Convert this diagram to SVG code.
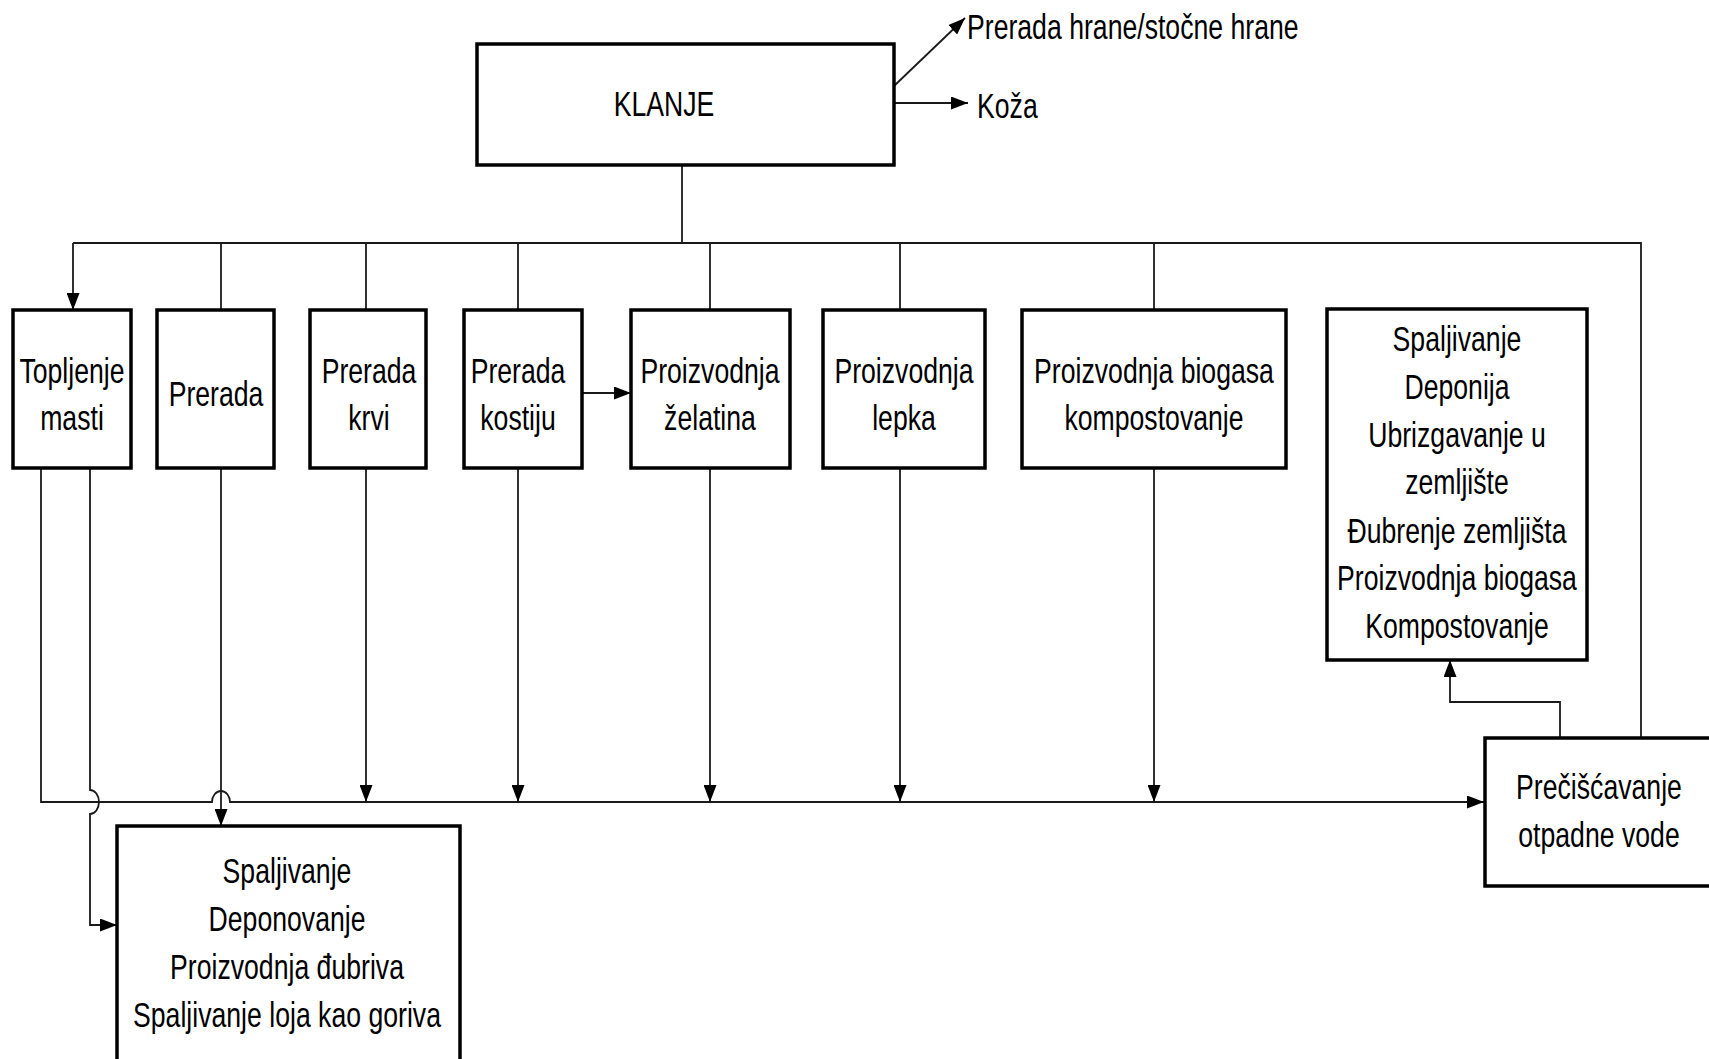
<svg xmlns="http://www.w3.org/2000/svg" width="1709" height="1059" viewBox="0 0 1709 1059">
  <style>
    .box { fill: #ffffff; stroke: #000000; stroke-width: 3.5; }
    .lbl { font-family: "Liberation Sans", Arial, sans-serif; font-size: 36px; fill: #000000; text-anchor: middle; }
    .lft { text-anchor: start; }
    .wire { fill: none; stroke: #1a1a1a; stroke-width: 1.8; }
    .arr { marker-end: url(#head); }
  </style>
  <defs>
    <marker id="head" markerUnits="userSpaceOnUse" markerWidth="18" markerHeight="13" refX="17" refY="6.5" orient="auto">
      <path d="M0,0 L17,6.5 L0,13 Z" fill="#000000"/>
    </marker>
  </defs>
  <rect width="1709" height="1059" fill="#ffffff"/>

  <g id="connectors">
    <!-- outputs of slaughter -->
    <path class="wire arr" d="M894,86 L965,18"/>
    <path class="wire arr" d="M894,103 L968,103"/>
    <!-- distribution bus -->
    <path class="wire" d="M682,165 V243"/>
    <path class="wire" d="M73,243 H1641 V738"/>
    <path class="wire arr" d="M73,243 V310"/>
    <path class="wire" d="M221,243 V309"/>
    <path class="wire" d="M366,243 V309"/>
    <path class="wire" d="M518,243 V309"/>
    <path class="wire" d="M710,243 V309"/>
    <path class="wire" d="M900,243 V309"/>
    <path class="wire" d="M1154,243 V309"/>
    <!-- bone processing to gelatine -->
    <path class="wire arr" d="M582,393 H631"/>
    <!-- collection line to wastewater treatment -->
    <path class="wire arr" d="M41,468 V802 H212 A9,11 0 0 1 230,802 H1484"/>
    <path class="wire arr" d="M366,468 V802"/>
    <path class="wire arr" d="M518,468 V802"/>
    <path class="wire arr" d="M710,468 V802"/>
    <path class="wire arr" d="M900,468 V802"/>
    <path class="wire arr" d="M1154,468 V802"/>
    <!-- lines to final disposal -->
    <path class="wire arr" d="M90,468 V790 A9,12 0 0 1 90,814 V925 H117"/>
    <path class="wire arr" d="M221,468 V826"/>
    <!-- wastewater treatment to sludge use -->
    <path class="wire arr" d="M1560,738 V702 H1450 V660"/>
  </g>

  <g id="klanje">
    <rect class="box" x="477" y="44" width="417" height="121"/>
    <text class="lbl" transform="translate(664,116) scale(0.74,1)">KLANJE</text>
  </g>
  <g id="prerada-hrane">
    <text class="lbl lft" transform="translate(967,39) scale(0.74,1)">Prerada hrane/stočne hrane</text>
  </g>
  <g id="koza">
    <text class="lbl lft" transform="translate(977,118) scale(0.74,1)">Koža</text>
  </g>

  <g id="topljenje-masti">
    <rect class="box" x="13" y="310" width="118" height="158"/>
    <text class="lbl" transform="translate(72,383) scale(0.74,1)">Topljenje</text>
    <text class="lbl" transform="translate(72,430) scale(0.74,1)">masti</text>
  </g>
  <g id="prerada">
    <rect class="box" x="157" y="310" width="117" height="158"/>
    <text class="lbl" transform="translate(216,406) scale(0.74,1)">Prerada</text>
  </g>
  <g id="prerada-krvi">
    <rect class="box" x="310" y="310" width="116" height="158"/>
    <text class="lbl" transform="translate(369,383) scale(0.74,1)">Prerada</text>
    <text class="lbl" transform="translate(369,430) scale(0.74,1)">krvi</text>
  </g>
  <g id="prerada-kostiju">
    <rect class="box" x="464" y="310" width="118" height="158"/>
    <text class="lbl" transform="translate(518,383) scale(0.74,1)">Prerada</text>
    <text class="lbl" transform="translate(518,430) scale(0.74,1)">kostiju</text>
  </g>
  <g id="proizvodnja-zelatina">
    <rect class="box" x="631" y="310" width="159" height="158"/>
    <text class="lbl" transform="translate(710,383) scale(0.74,1)">Proizvodnja</text>
    <text class="lbl" transform="translate(710,430) scale(0.74,1)">želatina</text>
  </g>
  <g id="proizvodnja-lepka">
    <rect class="box" x="823" y="310" width="162" height="158"/>
    <text class="lbl" transform="translate(904,383) scale(0.74,1)">Proizvodnja</text>
    <text class="lbl" transform="translate(904,430) scale(0.74,1)">lepka</text>
  </g>
  <g id="proizvodnja-biogasa">
    <rect class="box" x="1022" y="310" width="264" height="158"/>
    <text class="lbl" transform="translate(1154,383) scale(0.74,1)">Proizvodnja biogasa</text>
    <text class="lbl" transform="translate(1154,430) scale(0.74,1)">kompostovanje</text>
  </g>

  <g id="zbrinjavanje-mulja">
    <rect class="box" x="1327" y="309" width="260" height="351"/>
    <text class="lbl" transform="translate(1457,351) scale(0.74,1)">Spaljivanje</text>
    <text class="lbl" transform="translate(1457,399) scale(0.74,1)">Deponija</text>
    <text class="lbl" transform="translate(1457,447) scale(0.74,1)">Ubrizgavanje u</text>
    <text class="lbl" transform="translate(1457,494) scale(0.74,1)">zemljište</text>
    <text class="lbl" transform="translate(1457,543) scale(0.74,1)">Đubrenje zemljišta</text>
    <text class="lbl" transform="translate(1457,590) scale(0.74,1)">Proizvodnja biogasa</text>
    <text class="lbl" transform="translate(1457,638) scale(0.74,1)">Kompostovanje</text>
  </g>

  <g id="preciscavanje">
    <rect class="box" x="1485" y="738" width="240" height="148"/>
    <text class="lbl" transform="translate(1599,799) scale(0.74,1)">Prečišćavanje</text>
    <text class="lbl" transform="translate(1599,847) scale(0.74,1)">otpadne vode</text>
  </g>

  <g id="zbrinjavanje-ostataka">
    <rect class="box" x="117" y="826" width="343" height="240"/>
    <text class="lbl" transform="translate(287,883) scale(0.74,1)">Spaljivanje</text>
    <text class="lbl" transform="translate(287,931) scale(0.74,1)">Deponovanje</text>
    <text class="lbl" transform="translate(287,979) scale(0.74,1)">Proizvodnja đubriva</text>
    <text class="lbl" transform="translate(287,1027) scale(0.74,1)">Spaljivanje loja kao goriva</text>
  </g>
</svg>
